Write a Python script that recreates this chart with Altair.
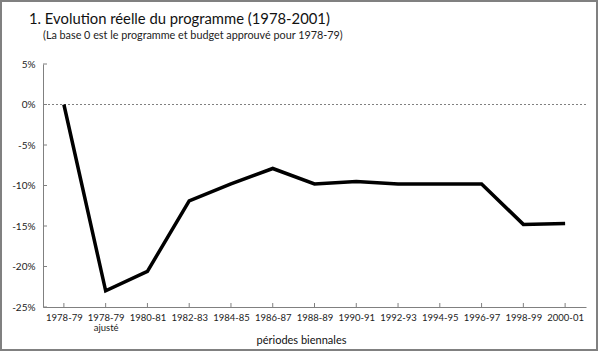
import altair as alt
import pandas as pd

periods = ["1978-79", "1978-79|ajusté", "1980-81", "1982-83", "1984-85", "1986-87",
           "1988-89", "1990-91", "1992-93", "1994-95", "1996-97", "1998-99", "2000-01"]
values = [0, -23.0, -20.6, -11.9, -9.8, -7.9, -9.8, -9.5, -9.8, -9.8, -9.8, -14.8, -14.7]
y_ticks = [5, 0, -5, -10, -15, -20, -25]
title_text = "1. Evolution réelle du programme (1978-2001)"
subtitle_text = "(La base 0 est le programme et budget approuvé pour 1978-79)"
x_title = "périodes biennales"

df = pd.DataFrame({"periode": periods, "valeur": values})
ticks_df = pd.DataFrame({"v": y_ticks})

FONT = "Lato"
W, H = 543, 243
GRAY = "#808080"

x_enc = alt.X(
    "periode:N", sort=periods,
    scale=alt.Scale(type="point", padding=0.5),
    axis=alt.Axis(title=x_title, labelAngle=0, labelExpr="split(datum.label, '|')",
                  tickSize=0, domainColor=GRAY, labelFontSize=9.5, labelColor="#222",
                  labelFont=FONT, labelLineHeight=10, labelPadding=5,
                  titleFont=FONT, titleFontSize=11, titleFontWeight="normal",
                  titleColor="#111", titleX=258, titleY=36, titleBaseline="alphabetic"),
)
y_scale = alt.Scale(domain=[-25, 5], nice=False)
y_axis = alt.Axis(values=y_ticks, labelExpr="datum.value + '%'", tickSize=0, grid=False,
                  title=None, domainColor=GRAY, labelPadding=8, labelFontSize=10,
                  labelFont=FONT, labelColor="#222")

zero = alt.Chart(df).mark_rule(color=GRAY, strokeDash=[2, 2], strokeWidth=1).encode(
    y=alt.datum(0, scale=y_scale, axis=y_axis)
)

ytick_marks = alt.Chart(ticks_df).mark_rule(color=GRAY, strokeWidth=1).encode(
    y=alt.Y("v:Q", scale=y_scale, axis=y_axis),
    x=alt.value(0), x2=alt.value(4),
)

xtick_marks = alt.Chart(df).mark_rule(color=GRAY, strokeWidth=1).encode(
    x=x_enc, y=alt.value(H - 4), y2=alt.value(H),
)

line = alt.Chart(df).mark_line(color="black", strokeWidth=3.5, strokeJoin="miter").encode(
    x=x_enc,
    y=alt.Y("valeur:Q", scale=y_scale, axis=y_axis),
)

title_mark = alt.Chart(pd.DataFrame({"t": [title_text]})).mark_text(
    font=FONT, fontSize=14.8, fontWeight="normal", align="left", baseline="alphabetic", color="#111"
).encode(text="t:N", x=alt.value(-14), y=alt.value(-40))

subtitle_mark = alt.Chart(pd.DataFrame({"t": [subtitle_text]})).mark_text(
    font=FONT, fontSize=10.8, fontWeight="normal", align="left", baseline="alphabetic", color="#222"
).encode(text="t:N", x=alt.value(0), y=alt.value(-25))

frame = alt.Chart(df).mark_rect(fillOpacity=0, stroke=GRAY, strokeWidth=1.5, clip=False).encode(
    x=alt.value(-42), x2=alt.value(554), y=alt.value(-63), y2=alt.value(286)
)

chart = alt.layer(
    zero, ytick_marks, xtick_marks, line, title_mark, subtitle_mark, frame
).properties(
    width=W, height=H,
    autosize=alt.AutoSizeParams(type="none"),
    padding={"left": 43, "top": 64, "right": 14, "bottom": 46},
    background="white",
).configure_view(strokeWidth=0)

chart.save("out.html", embed_options={"renderer": "svg", "actions": False})
